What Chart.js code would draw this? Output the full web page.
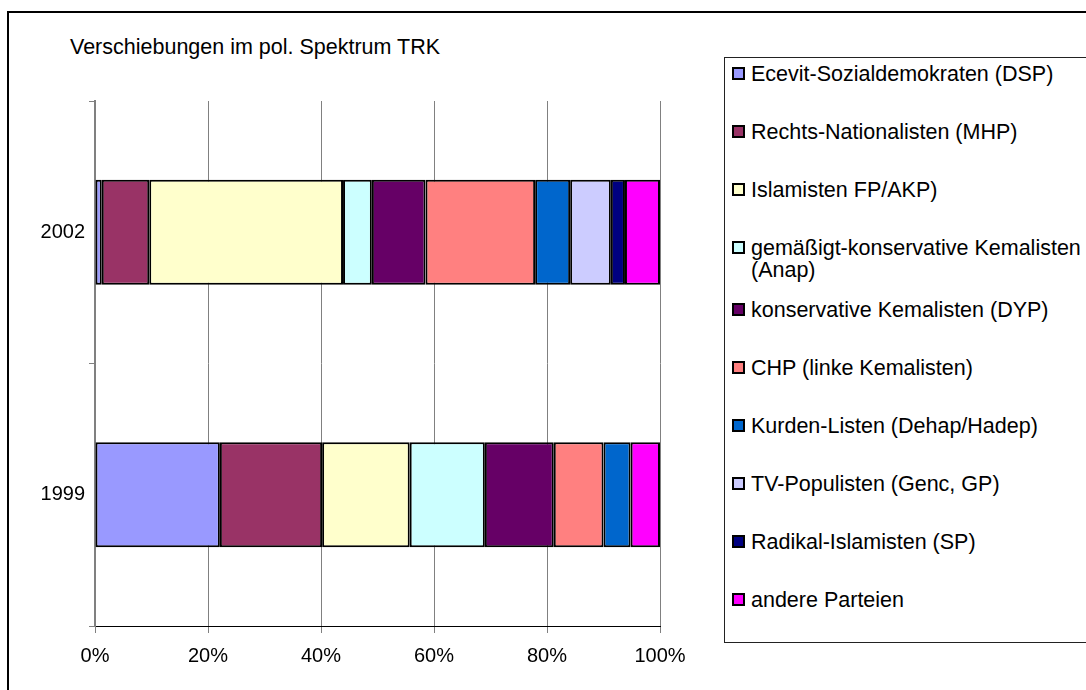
<!DOCTYPE html>
<html>
<head>
<meta charset="utf-8">
<script src="https://cdn.jsdelivr.net/npm/chart.js@4/dist/chart.umd.min.js"></script>
<style>
  html,body{margin:0;padding:0;background:#fff;}
  body{width:1086px;height:690px;position:relative;overflow:hidden;font-family:"Liberation Sans",Arial,sans-serif;}
  #frame{position:absolute;left:7px;top:11px;width:1100px;height:700px;border:2px solid #000;}
  #title{position:absolute;left:70px;top:37px;font-size:21.5px;line-height:21.5px;color:#000;white-space:nowrap;}
  #chart{position:absolute;left:0;top:0;}
  #legend{position:absolute;left:724px;top:57px;width:400px;height:584px;border:1px solid #222;}
  .item{position:absolute;left:26px;width:340px;font-size:21.5px;line-height:22px;color:#000;}
  .sw{position:absolute;left:-19px;top:4px;width:9px;height:9px;border:2px solid #000;}
</style>
</head>
<body>
<div id="frame"></div>
<div id="title">Verschiebungen im pol. Spektrum TRK</div>
<canvas id="chart" width="720" height="690"></canvas>
<div id="legend"></div>
<script>
const years = ['2002','1999'];
const parties = [
  'Ecevit-Sozialdemokraten (DSP)',
  'Rechts-Nationalisten (MHP)',
  'Islamisten FP/AKP)',
  'gemäßigt-konservative Kemalisten (Anap)',
  'konservative Kemalisten (DYP)',
  'CHP (linke Kemalisten)',
  'Kurden-Listen (Dehap/Hadep)',
  'TV-Populisten (Genc, GP)',
  'Radikal-Islamisten (SP)',
  'andere Parteien'
];
const colors = ['#9999FF','#993366','#FFFFCC','#CCFFFF','#660066','#FF8080','#0066CC','#CCCCFF','#000080','#FF00FF'];
// Stimmenanteile in %
const share2002 = [1.2, 8.4, 34.3, 5.1, 9.5, 19.4, 6.2, 7.2, 2.5, 6.2];
const share1999 = [22.1, 18.1, 15.5, 13.3, 12.2, 8.8, 4.8, null, null, 5.2];
const xTicks = [0, 20, 40, 60, 80, 100];

const FONT = '"Liberation Sans", Arial, sans-serif';

const datasets = parties.map((p,i)=>({
  label: p,
  data: [share2002[i], share1999[i]],
  backgroundColor: colors[i],
  borderColor: '#000',
  borderWidth: 2,
  borderSkipped: false,
  barPercentage: 0.4,
  categoryPercentage: 1.0
}));

const chart = new Chart(document.getElementById('chart'), {
  type: 'bar',
  data: { labels: years, datasets },
  options: {
    indexAxis: 'y',
    responsive: false,
    animation: false,
    layout: { padding: { top: 101, right: 60, bottom: 0, left: 0 } },
    plugins: { legend: { display: false }, tooltip: { enabled: false } },
    scales: {
      x: {
        stacked: true,
        min: xTicks[0], max: xTicks[xTicks.length-1],
        afterBuildTicks: (s)=>{ s.ticks = xTicks.map(v=>({value:v})); },
        afterFit: (s)=>{ s.height = 64; },
        ticks: { callback: v=>v+'%', color:'#000', font:{family:FONT, size:20}, padding: 11, maxRotation: 0 },
        grid: { color:'#808080', lineWidth: 1, tickLength: 7 },
        border: { color:'#000', width: 1 }
      },
      y: {
        stacked: true,
        afterFit: (s)=>{ s.width = 95; },
        ticks: { color:'#000', font:{family:FONT, size:20}, padding: 4 },
        grid: { drawOnChartArea: false, offset: true, color:'#808080', tickLength: 6 },
        border: { color:'#808080', width: 2 }
      }
    }
  }
});

// legend built from the chart's datasets
const lg = document.getElementById('legend');
chart.data.datasets.forEach((ds,i)=>{
  const cy = 74 + 58*i + (i>=4 ? 4 : 0);
  const it = document.createElement('div');
  it.className = 'item';
  it.style.top = (cy - 57 - 1 - 11) + 'px';
  const sw = document.createElement('span');
  sw.className = 'sw';
  sw.style.background = ds.backgroundColor;
  it.appendChild(sw);
  it.appendChild(document.createTextNode(ds.label));
  lg.appendChild(it);
});
</script>
</body>
</html>
